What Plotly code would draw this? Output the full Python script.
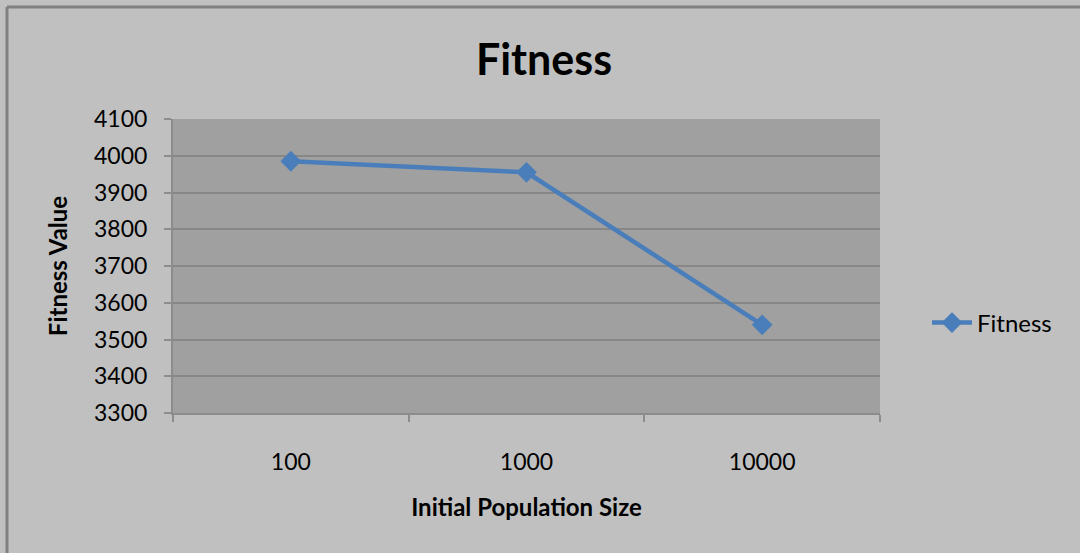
import plotly.graph_objects as go

# Initial population sizes and the resulting fitness values
population_sizes = ["100", "1000", "10000"]
fitness_values = [3985, 3955, 3540]
y_tick_values = [3300, 3400, 3500, 3600, 3700, 3800, 3900, 4000, 4100]

W, H = 1080, 553
FONT = "Lato, 'Open Sans', sans-serif"
PLOT_W, PLOT_H = 707, 294

fig = go.Figure()
fig.add_trace(go.Scatter(
    x=population_sizes,
    y=fitness_values,
    mode="lines+markers",
    name="Fitness",
    line=dict(color="#4a7ebb", width=4.5),
    marker=dict(symbol="diamond", size=16, color="#4a7ebb"),
))

# chart-area frame: top and left edges, kept inside the canvas
frame_x0 = -166 / PLOT_W
frame_y1 = 1 + 112 / PLOT_H
frame_style = dict(color="#808080", width=3)

fig.update_layout(
    width=W, height=H,
    margin=dict(l=173, r=200, t=119, b=140, autoexpand=False),
    paper_bgcolor="#c0c0c0",
    plot_bgcolor="#a0a0a0",
    font=dict(family=FONT, color="#000000"),
    title=dict(
        text="<b>Fitness</b>",
        x=544 / W, xanchor="center", xref="container",
        y=1 - 60 / H, yanchor="middle", yref="container",
        font=dict(size=43, family=FONT, color="#000000"),
    ),
    showlegend=True,
    legend=dict(
        x=927 / W, xref="container", xanchor="left",
        y=1 - 323 / H, yref="container", yanchor="middle",
        font=dict(size=24, family=FONT),
        bgcolor="rgba(0,0,0,0)",
        itemwidth=40,
    ),
    xaxis=dict(
        type="category",
        range=[-0.5, 2.5],
        tickson="boundaries",
        ticks="outside", ticklen=7, tickcolor="#8c8c8c", tickwidth=1.5,
        showline=True, linecolor="#8c8c8c", linewidth=2,
        showgrid=False,
        automargin=False,
        tickfont=dict(size=23, family=FONT),
        ticklabelstandoff=27,
        title=dict(text="<b>Initial Population Size</b>", font=dict(size=24, family=FONT), standoff=26),
    ),
    yaxis=dict(
        range=[3300, 4100],
        tickvals=y_tick_values,
        ticks="outside", ticklen=7, tickcolor="#8c8c8c", tickwidth=1.5,
        showline=True, linecolor="#8c8c8c", linewidth=2,
        showgrid=True, gridcolor="#878787", gridwidth=2,
        zeroline=False,
        automargin=False,
        tickfont=dict(size=23, family=FONT),
        ticklabelstandoff=12,
        title=dict(text="<b>Fitness Value</b>", font=dict(size=24, family=FONT), standoff=20),
    ),
    shapes=[
        dict(type="line", xref="paper", yref="paper",
             x0=frame_x0, x1=(W - 173) / PLOT_W, y0=frame_y1, y1=frame_y1,
             line=frame_style, layer="below"),
        dict(type="line", xref="paper", yref="paper",
             x0=frame_x0, x1=frame_x0, y0=-(H - 413) / PLOT_H, y1=frame_y1,
             line=frame_style, layer="below"),
    ],
)

fig.write_html("out.html")
